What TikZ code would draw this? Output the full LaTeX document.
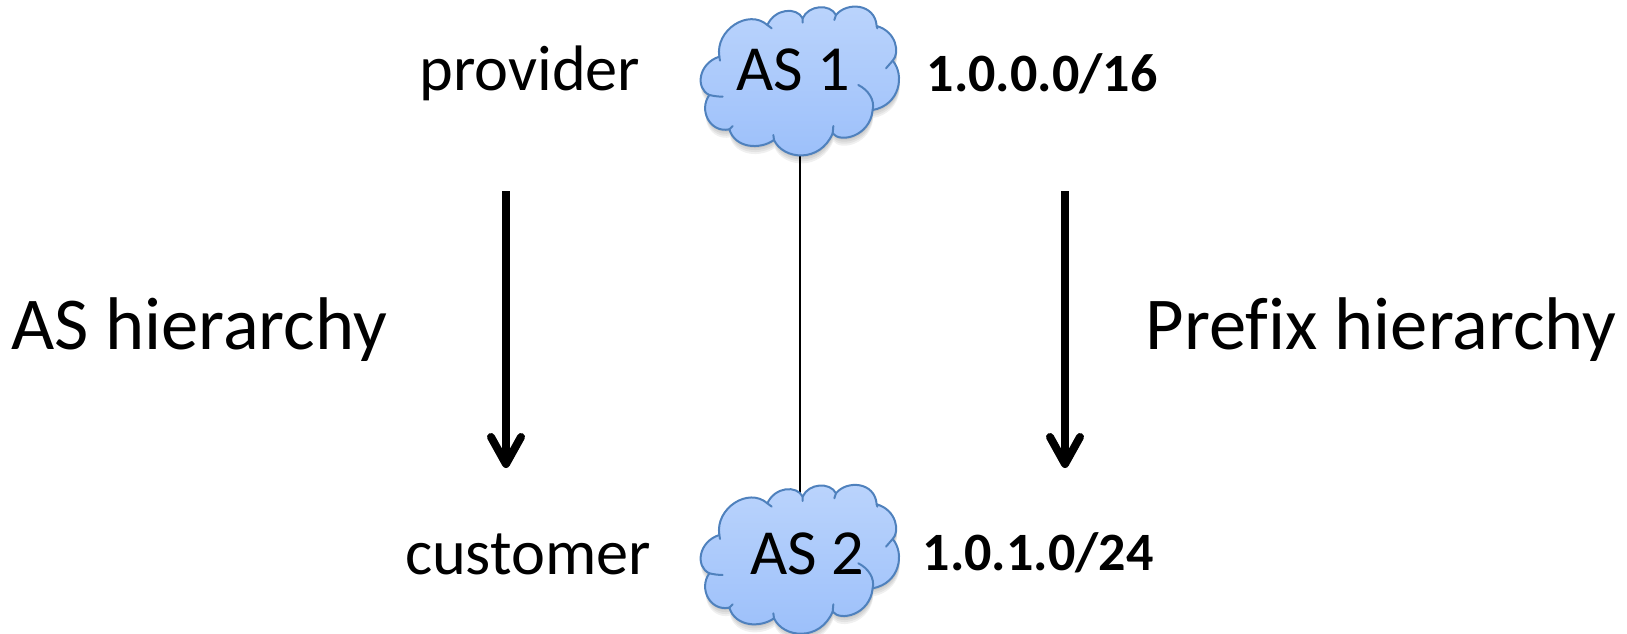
\documentclass[tikz,border=0pt]{standalone}
\usepackage{fontspec}
\setmainfont{Carlito}[Ligatures=NoCommon]
\usetikzlibrary{arrows.meta}
\definecolor{cloudline}{HTML}{4F81BD}
\definecolor{cloudtop}{HTML}{BBD4FC}
\definecolor{cloudbot}{HTML}{9BBFFA}
\def\cloudbody{(88,285) .. controls (45,265) and (55,190) .. (118,170)
 .. controls (105,90) and (205,25) .. (262,75)
 .. controls (285,25) and (350,20) .. (368,55)
 .. controls (385,15) and (450,10) .. (468,45)
 .. controls (500,5) and (585,10) .. (590,78)
 .. controls (650,95) and (660,160) .. (638,182)
 .. controls (675,225) and (660,315) .. (578,330)
 .. controls (570,410) and (480,430) .. (458,400)
 .. controls (420,490) and (310,480) .. (282,420)
 .. controls (240,450) and (165,445) .. (148,388)
 .. controls (90,400) and (55,330) .. (88,285) -- cycle}
\tikzset{
  x=1pt,y=-1pt,
  hugetext/.style={anchor=base,font=\fontsize{74.6}{80}\selectfont},
  bigtext/.style={anchor=base,font=\fontsize{64.3}{72}\selectfont},
  boldtext/.style={anchor=base,font=\fontsize{54}{60}\bfseries\selectfont},
  hierarrow/.style={line width=8pt,-{Straight Barb[length=27pt,width=30pt,round,line width=8pt]}},
  cloud shape/.pic={
    \begin{scope}[scale=1/3]
      \foreach \d in {16,12,8,4}{
        \fill[black,opacity=0.06,shift={(2,\d*1.5)}] \cloudbody;
      }
      \shade[top color=cloudtop,bottom color=cloudbot] \cloudbody;
      \draw[cloudline,line width=2pt,line join=round] \cloudbody;
      \draw[cloudline,line width=2pt,line cap=round]
        (88,285) .. controls (100,288) and (115,290) .. (128,290)
        (118,170) -- (120,182)
        (262,75) -- (275,85)
        (368,55) -- (368,68)
        (468,45) -- (463,60)
        (590,78) -- (592,85)
        (638,182) -- (618,205)
        (578,330) .. controls (585,300) and (565,270) .. (535,255)
        (458,400) -- (460,378)
        (282,420) -- (280,405)
        (148,388) -- (158,378);
    \end{scope}
  }
}
\begin{document}
\begin{tikzpicture}
\useasboundingbox (0,0) rectangle (1627,634);
\coordinate (as1port) at (800,150);
\coordinate (as2port) at (800,495);
\coordinate (a1s) at (506,191);
\coordinate (a1e) at (506,468);
\coordinate (a2s) at (1065,191);
\coordinate (a2e) at (1065,468);
\draw[line width=1.5pt] (as1port) -- (as2port);
\pic at (680,0) {cloud shape};
\pic at (680,478.3) {cloud shape};
\draw[hierarrow] (a1s) -- (a1e);
\draw[hierarrow] (a2s) -- (a2e);
\node[bigtext] (provider) at (530,90) {provider};
\node[bigtext] (as1) at (793,90) {AS 1};
\node[boldtext] (p1) at (1042,91) {1.0.0.0/16};
\node[hugetext] (ash) at (199,349) {AS hierarchy};
\node[hugetext] (pfh) at (1381,349) {Prefix hierarchy};
\node[bigtext] (customer) at (528,574) {customer};
\node[bigtext] (as2) at (807,574) {AS 2};
\node[boldtext] (p2) at (1038,570) {1.0.1.0/24};
\end{tikzpicture}
\end{document}
